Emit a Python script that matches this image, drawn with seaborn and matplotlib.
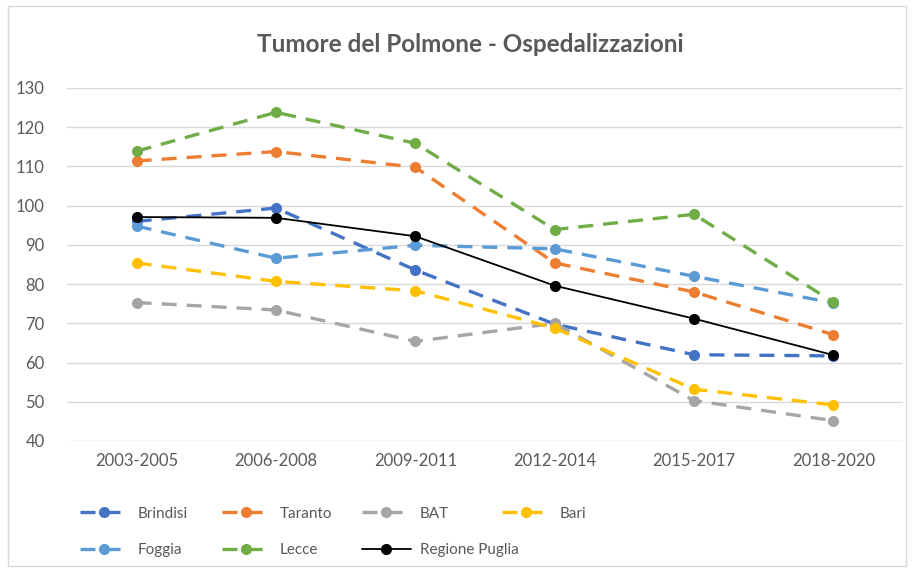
import pandas as pd
import seaborn as sns
import matplotlib.pyplot as plt
from matplotlib.patches import Rectangle

periodi = ["2003-2005", "2006-2008", "2009-2011", "2012-2014", "2015-2017", "2018-2020"]

brindisi = [96, 99.4, 83.6, 69.8, 62, 61.7]
taranto = [111.4, 113.8, 109.8, 85.4, 78, 67.1]
bat = [75.3, 73.4, 65.4, 70, 50.3, 45.2]
bari = [85.4, 80.7, 78.3, 68.8, 53.2, 49.2]
foggia = [94.8, 86.6, 89.9, 89, 82, 75.2]
lecce = [113.9, 123.8, 115.9, 93.9, 97.8, 75.4]
puglia = [97.1, 96.9, 92.2, 79.6, 71.2, 61.9]

serie = {
    "Brindisi": (brindisi, "#4472C4"),
    "Taranto": (taranto, "#ED7D31"),
    "BAT": (bat, "#A5A5A5"),
    "Bari": (bari, "#FFC000"),
    "Foggia": (foggia, "#5B9BD5"),
    "Lecce": (lecce, "#70AD47"),
    "Regione Puglia": (puglia, "black"),
}

sns.set_style("white")
plt.rcParams["font.family"] = ["Lato", "DejaVu Sans"]

fig = plt.figure(figsize=(9.14, 5.72), dpi=100)
ax = fig.add_axes([67 / 914, 1 - 441 / 572, 836 / 914, 353 / 572])

handles = {}
for nome, (valori, colore) in serie.items():
    df = pd.DataFrame({"x": range(len(periodi)), "y": valori})
    if nome == "Regione Puglia":
        sns.lineplot(x="x", y="y", data=df, ax=ax, color=colore, lw=1.3,
                     marker="o", markersize=8, markeredgewidth=0, zorder=5)
    else:
        sns.lineplot(x="x", y="y", data=df, ax=ax, color=colore, lw=2.4,
                     marker="o", markersize=8, markeredgewidth=0,
                     dashes=(4.5, 3))
    handles[nome] = ax.lines[-1]

ax.set_xlim(-0.5, 5.5)
ax.set_ylim(40, 130)
ax.set_yticks(range(40, 131, 10))
ax.set_xticks(range(len(periodi)))
ax.set_xticklabels(periodi)
ax.set_xlabel("")
ax.set_ylabel("")
ax.grid(axis="y", color="#D9D9D9", lw=1)
ax.set_axisbelow(True)
for s in ax.spines.values():
    s.set_visible(False)
ax.tick_params(length=0, labelsize=12, labelcolor="#595959")
ax.tick_params(axis="x", pad=9)
ax.tick_params(axis="y", pad=16)

fig.text(0.515, 1 - 45 / 572, "Tumore del Polmone - Ospedalizzazioni",
         ha="center", va="center", fontsize=17.5, fontweight="bold", color="#595959")

# legenda: quattro colonne, come in Excel
colonne = [["Brindisi", "Foggia"], ["Taranto", "Lecce"],
           ["BAT", "Regione Puglia"], ["Bari"]]
x_col = [66, 208, 348, 488]
for nomi, xc in zip(colonne, x_col):
    leg = fig.legend([handles[n] for n in nomi], nomi, loc="upper left",
                     bbox_to_anchor=(xc / 914, 1 - 493 / 572), frameon=False,
                     fontsize=11, labelcolor="#595959", handlelength=3.2,
                     handletextpad=0.6, labelspacing=1.45)

fig.patches.append(Rectangle((8 / 914, 6 / 572), 898 / 914, 560 / 572,
                             transform=fig.transFigure, fill=False,
                             edgecolor="#D9D9D9", lw=1))

plt.savefig("out.png", dpi=100)
